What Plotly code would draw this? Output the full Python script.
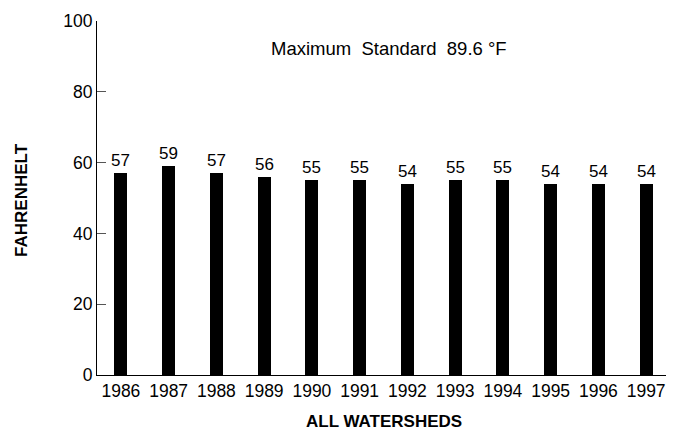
import plotly.graph_objects as go

years = ["1986", "1987", "1988", "1989", "1990", "1991", "1992", "1993", "1994", "1995", "1996", "1997"]
temps = [57, 59, 57, 56, 55, 55, 54, 55, 55, 54, 54, 54]
y_ticks = [0, 20, 40, 60, 80, 100]
note = "Maximum\u00a0\u00a0Standard\u00a0\u00a089.6 °F"
x_title = "ALL WATERSHEDS"
y_title = "FAHRENHELT"

FONT = "Liberation Sans, Arial, sans-serif"

fig = go.Figure()
fig.add_trace(go.Bar(
    x=years, y=temps, marker=dict(color="black", line=dict(width=0)),
    width=0.27, text=[str(v) for v in temps], textposition="outside",
    constraintext="none",
    textfont=dict(size=17, color="black", family=FONT), cliponaxis=False,
))
fig.add_annotation(x=0.5, xref="paper", y=92.2, yref="y", text=note, xshift=5,
                   showarrow=False, font=dict(size=18.5, color="black", family=FONT))
fig.add_annotation(x=0.5, xref="paper", y=-0.13, yref="paper", text="<b>" + x_title + "</b>",
                   showarrow=False, xanchor="center", yanchor="middle",
                   font=dict(size=17, color="black", family=FONT))
fig.add_annotation(x=-0.133, xref="paper", y=0.494, yref="paper", text="<b>" + y_title + "</b>",
                   showarrow=False, textangle=-90, xanchor="center", yanchor="middle",
                   font=dict(size=17, color="black", family=FONT))
fig.update_layout(
    width=666, height=422,
    margin=dict(l=89, r=4, t=13, b=55),
    paper_bgcolor="white", plot_bgcolor="white",
    font=dict(family=FONT, color="black", size=17),
    showlegend=False, bargap=0,
    xaxis=dict(type="category", showline=True, linecolor="black", linewidth=1,
               ticks="", showgrid=False, tickfont=dict(size=17.5), automargin=False),
    yaxis=dict(range=[0, 100], tickvals=y_ticks, showline=True, linecolor="black",
               linewidth=1, ticks="inside", ticklen=9, tickcolor="#555", showgrid=False,
               zeroline=False, tickfont=dict(size=17.5), automargin=False),
)
fig.write_html("out.html")
